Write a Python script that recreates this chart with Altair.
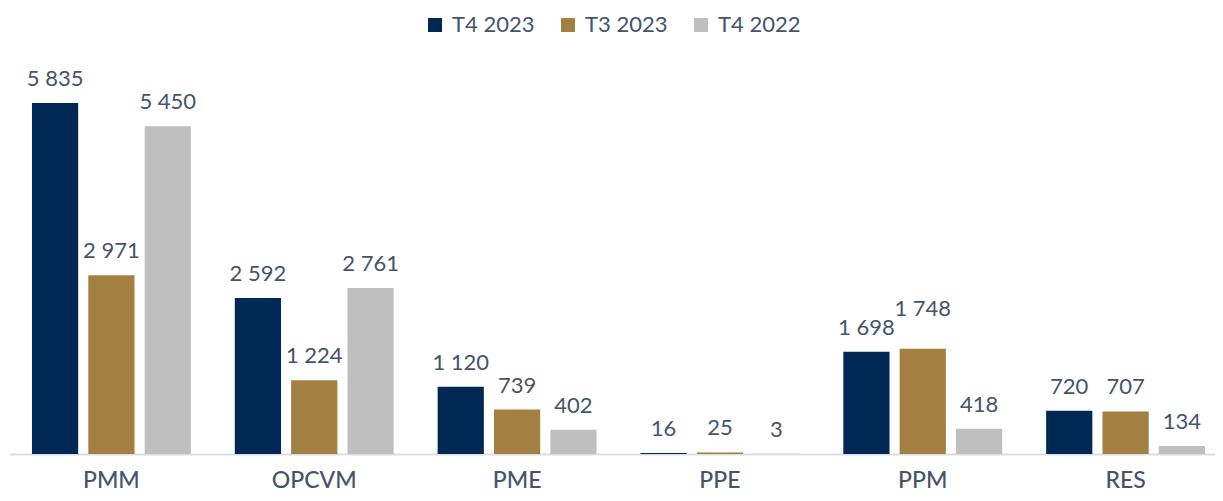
import altair as alt
import pandas as pd

categories = ["PMM", "OPCVM", "PME", "PPE", "PPM", "RES"]
series = ["T4 2023", "T3 2023", "T4 2022"]
t4_2023 = [5835, 2592, 1120, 16, 1698, 720]
t3_2023 = [2971, 1224, 739, 25, 1748, 707]
t4_2022 = [5450, 2761, 402, 3, 418, 134]
colors = ["#002855", "#A37F41", "#BFBFBF"]

rows = []
for s, vals in zip(series, [t4_2023, t3_2023, t4_2022]):
    for c, v in zip(categories, vals):
        rows.append({"cat": c, "series": s, "value": v,
                     "label": f"{v:,}".replace(",", " ")})
df = pd.DataFrame(rows)

x = alt.X("cat:N", sort=categories, title=None,
          scale=alt.Scale(paddingInner=0, paddingOuter=0, range=[0, 1217]),
          axis=alt.Axis(labelAngle=0, ticks=False, domainColor="#D9DEE4", domainWidth=2,
                        labelFont="Lato", labelFontSize=23, labelFontWeight=500,
                        labelColor="#44546A", labelPadding=15))
xo = alt.XOffset("series:N", sort=series,
                 scale=alt.Scale(paddingInner=0.18, paddingOuter=0.39))
y = alt.Y("value:Q", scale=alt.Scale(domain=[0, 6500], nice=False), axis=None, title=None)

bars = alt.Chart(df).mark_bar().encode(
    x=x, xOffset=xo, y=y,
    color=alt.Color("series:N", sort=series,
                    scale=alt.Scale(domain=series, range=colors),
                    legend=alt.Legend(title=None, orient="none", legendX=414, legendY=-49,
                                      direction="horizontal", symbolType="square",
                                      symbolSize=196, symbolStrokeWidth=0,
                                      labelFont="Lato", labelFontSize=22,
                                      labelColor="#44546A", columnPadding=22,
                                      labelOffset=6)),
)

is_raised = (alt.datum.cat == "PPM") & (alt.datum.series == "T3 2023")

text = alt.Chart(df).mark_text(font="Lato", fontSize=22, color="#44546A",
                               baseline="alphabetic", dy=-17).encode(
    x=x, xOffset=xo, y=y, text="label:N").transform_filter(~is_raised)

text_raised = alt.Chart(df).mark_text(font="Lato", fontSize=22, color="#44546A",
                                      baseline="alphabetic", dy=-33).encode(
    x=x, xOffset=xo, y=y, text="label:N").transform_filter(is_raised)

chart = alt.layer(bars, text, text_raised).properties(
    width=1205, height=391,
    autosize=alt.AutoSizeParams(type="none"),
    padding={"left": 2, "top": 55, "right": 0, "bottom": 39},
).configure_view(stroke=None)

chart.save("out.html", embed_options={"renderer": "svg", "actions": False})
